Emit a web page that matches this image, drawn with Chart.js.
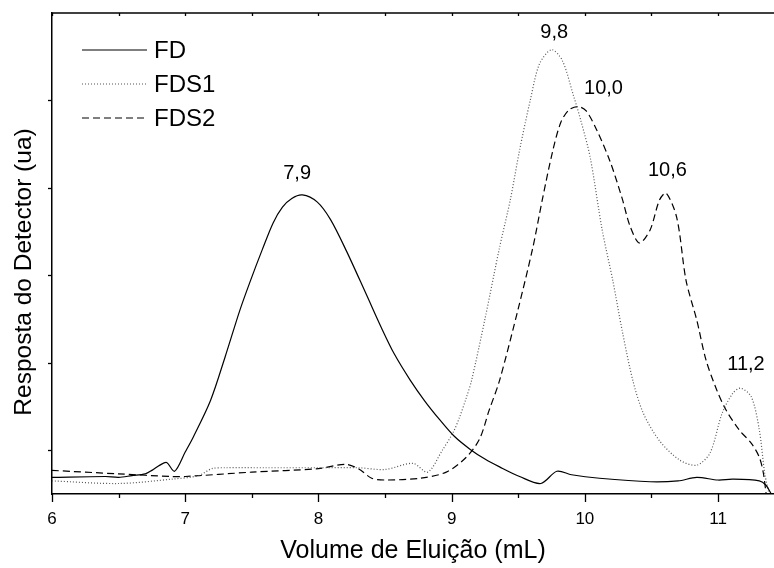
<!DOCTYPE html>
<html>
<head>
<meta charset="utf-8">
<script src="https://cdn.jsdelivr.net/npm/chart.js@4.4.0/dist/chart.umd.min.js"></script>
<style>
    html, body { margin: 0; padding: 0; background: #fff; }
    #wrap { width: 774px; height: 568px; }
</style>
</head>
<body>
<div id="wrap"><canvas id="chart" width="774" height="568"></canvas></div>
<script>
// Chromatogram data
const fdX = [6.0, 6.4, 6.5, 6.6, 6.7, 6.75, 6.81, 6.86, 6.92, 7.0, 7.06, 7.19, 7.3, 7.41, 7.49, 7.58, 7.66, 7.73, 7.8, 7.88, 7.99, 8.09, 8.21, 8.36, 8.47, 8.57, 8.69, 8.8, 8.91, 9.02, 9.14, 9.25, 9.36, 9.51, 9.67, 9.79, 9.9, 10.11, 10.49, 10.7, 10.84, 11.0, 11.11, 11.31, 11.36, 11.4];
const fdY = [-0.31, -0.30, -0.31, -0.29, -0.27, -0.23, -0.17, -0.14, -0.24, -0.02, 0.15, 0.57, 1.07, 1.6, 1.94, 2.3, 2.6, 2.78, 2.88, 2.92, 2.84, 2.64, 2.28, 1.78, 1.41, 1.1, 0.8, 0.56, 0.35, 0.16, 0.01, -0.1, -0.19, -0.3, -0.38, -0.24, -0.28, -0.32, -0.36, -0.35, -0.31, -0.34, -0.33, -0.35, -0.40, -0.5];

const fds1X = [6.0, 6.5, 6.9, 7.1, 7.2, 7.3, 7.6, 8.0, 8.3, 8.5, 8.71, 8.82, 8.93, 9.01, 9.06, 9.11, 9.15, 9.25, 9.36, 9.44, 9.51, 9.59, 9.66, 9.75, 9.83, 9.91, 9.97, 10.04, 10.13, 10.21, 10.28, 10.36, 10.44, 10.56, 10.71, 10.84, 10.94, 11.03, 11.11, 11.17, 11.25, 11.31, 11.35, 11.38];
const fds1Y = [-0.35, -0.38, -0.33, -0.29, -0.21, -0.2, -0.2, -0.2, -0.2, -0.22, -0.15, -0.25, 0.0, 0.2, 0.38, 0.6, 0.8, 1.5, 2.32, 2.86, 3.43, 4.0, 4.42, 4.58, 4.46, 4.08, 3.77, 3.35, 2.52, 1.94, 1.37, 0.8, 0.42, 0.11, -0.11, -0.17, -0.03, 0.42, 0.65, 0.71, 0.61, 0.23, -0.26, -0.48];

const fds2X = [6.0, 6.5, 6.9, 7.0, 7.5, 8.0, 8.2, 8.3, 8.4, 8.5, 8.76, 8.96, 9.11, 9.21, 9.28, 9.36, 9.5, 9.61, 9.68, 9.76, 9.82, 9.88, 9.95, 10.01, 10.09, 10.19, 10.28, 10.34, 10.41, 10.49, 10.56, 10.61, 10.69, 10.76, 10.84, 10.91, 10.99, 11.06, 11.16, 11.25, 11.31, 11.34, 11.36];
const fds2Y = [-0.23, -0.27, -0.30, -0.30, -0.25, -0.21, -0.16, -0.21, -0.32, -0.34, -0.32, -0.25, -0.08, 0.13, 0.45, 0.8, 1.62, 2.32, 2.86, 3.43, 3.75, 3.89, 3.93, 3.88, 3.66, 3.3, 2.88, 2.56, 2.37, 2.52, 2.86, 2.94, 2.66, 1.94, 1.49, 1.03, 0.69, 0.46, 0.23, 0.08, -0.08, -0.26, -0.49];

// Peak labels (text, x, y in data units)
const peakText = ['7,9', '9,8', '10,0', '10,6', '11,2'];
const peakX = [7.84, 9.77, 10.14, 10.62, 11.21];
const peakY = [3.17, 4.78, 4.14, 3.20, 0.98];

// x axis tick labels
const xTicks = [6, 7, 8, 9, 10, 11];

const FONT = '"Liberation Sans", Arial, sans-serif';

function toPoints(xs, ys) {
    return xs.map((x, i) => ({ x: x, y: ys[i] }));
}

// Frame, ticks, tick labels, y title, legend and peak labels
const decorPlugin = {
    id: 'decor',
    afterDraw(chart) {
        const ctx = chart.ctx;
        const area = chart.chartArea;
        const xs = chart.scales.x;
        const ys = chart.scales.y;
        ctx.save();
        ctx.strokeStyle = '#000';

        // top border
        ctx.lineWidth = 1.5;
        ctx.beginPath();
        ctx.moveTo(area.left, area.top);
        ctx.lineTo(area.right, area.top);
        ctx.stroke();

        // x ticks (bottom outward, top inward)
        ctx.lineWidth = 1.3;
        for (let v = 6; v <= 11.4; v += 0.5) {
            const px = Math.round(xs.getPixelForValue(v)) + 0.5;
            const len = Number.isInteger(v) ? 8 : 4;
            ctx.beginPath();
            ctx.moveTo(px, area.bottom);
            ctx.lineTo(px, area.bottom + len);
            ctx.moveTo(px, area.top);
            ctx.lineTo(px, area.top + 3);
            ctx.stroke();
        }
        // y ticks (left outward)
        for (let v = 0; v <= 4; v++) {
            const py = Math.round(ys.getPixelForValue(v)) + 0.5;
            ctx.beginPath();
            ctx.moveTo(area.left - 4, py);
            ctx.lineTo(area.left, py);
            ctx.stroke();
        }

        ctx.fillStyle = '#000';
        ctx.textAlign = 'center';
        ctx.textBaseline = 'middle';

        // x tick labels
        ctx.font = '17px ' + FONT;
        xTicks.forEach(v => {
            ctx.fillText(String(v), xs.getPixelForValue(v), area.bottom + 25);
        });

        // y title
        ctx.font = '24.5px ' + FONT;
        ctx.save();
        ctx.translate(24, 272);
        ctx.rotate(-Math.PI / 2);
        ctx.fillText('Resposta do Detector (ua)', 0, 0);
        ctx.restore();

        // legend
        ctx.font = '24px ' + FONT;
        ctx.textAlign = 'left';
        chart.data.datasets.forEach((ds, i) => {
            const y = area.top + 37 + i * 34;
            ctx.strokeStyle = ds.borderColor;
            ctx.lineWidth = ds.borderWidth;
            ctx.setLineDash(ds.borderDash || []);
            ctx.beginPath();
            ctx.moveTo(area.left + 30, y);
            ctx.lineTo(area.left + 95, y);
            ctx.stroke();
            ctx.setLineDash([]);
            ctx.fillText(ds.label, area.left + 102, y + 1);
        });

        // peak labels
        ctx.font = '20px ' + FONT;
        ctx.textAlign = 'center';
        peakText.forEach((t, i) => {
            ctx.fillText(t, xs.getPixelForValue(peakX[i]), ys.getPixelForValue(peakY[i]));
        });
        ctx.restore();
    }
};

const ctx = document.getElementById('chart').getContext('2d');
new Chart(ctx, {
    type: 'line',
    data: {
        datasets: [
            {
                label: 'FD',
                data: toPoints(fdX, fdY),
                borderColor: '#000',
                borderWidth: 1.2,
                pointRadius: 0,
                tension: 0.3
            },
            {
                label: 'FDS1',
                data: toPoints(fds1X, fds1Y),
                borderColor: '#555',
                borderWidth: 1.2,
                borderDash: [1, 2],
                pointRadius: 0,
                tension: 0.3
            },
            {
                label: 'FDS2',
                data: toPoints(fds2X, fds2Y),
                borderColor: '#000',
                borderWidth: 1.2,
                borderDash: [7, 4],
                pointRadius: 0,
                tension: 0.3
            }
        ]
    },
    options: {
        responsive: false,
        devicePixelRatio: 1,
        animation: false,
        layout: { padding: { top: 13, right: 0, bottom: 0, left: 0 } },
        plugins: {
            legend: { display: false },
            tooltip: { enabled: false }
        },
        scales: {
            x: {
                type: 'linear',
                min: 6,
                max: 11.42,
                afterFit: function(scale) { scale.height = 74; },
                ticks: { display: false },
                grid: { display: false },
                border: { display: true, color: '#000', width: 1.5 },
                title: {
                    display: true,
                    text: 'Volume de Eluição (mL)',
                    color: '#000',
                    font: { size: 25, family: FONT },
                    padding: { top: 0, bottom: 2 }
                }
            },
            y: {
                min: -0.5,
                max: 5,
                afterFit: function(scale) { scale.width = 52; },
                ticks: { display: false },
                grid: { display: false },
                border: { display: true, color: '#000', width: 1.5 }
            }
        }
    },
    plugins: [decorPlugin]
});
</script>
</body>
</html>
